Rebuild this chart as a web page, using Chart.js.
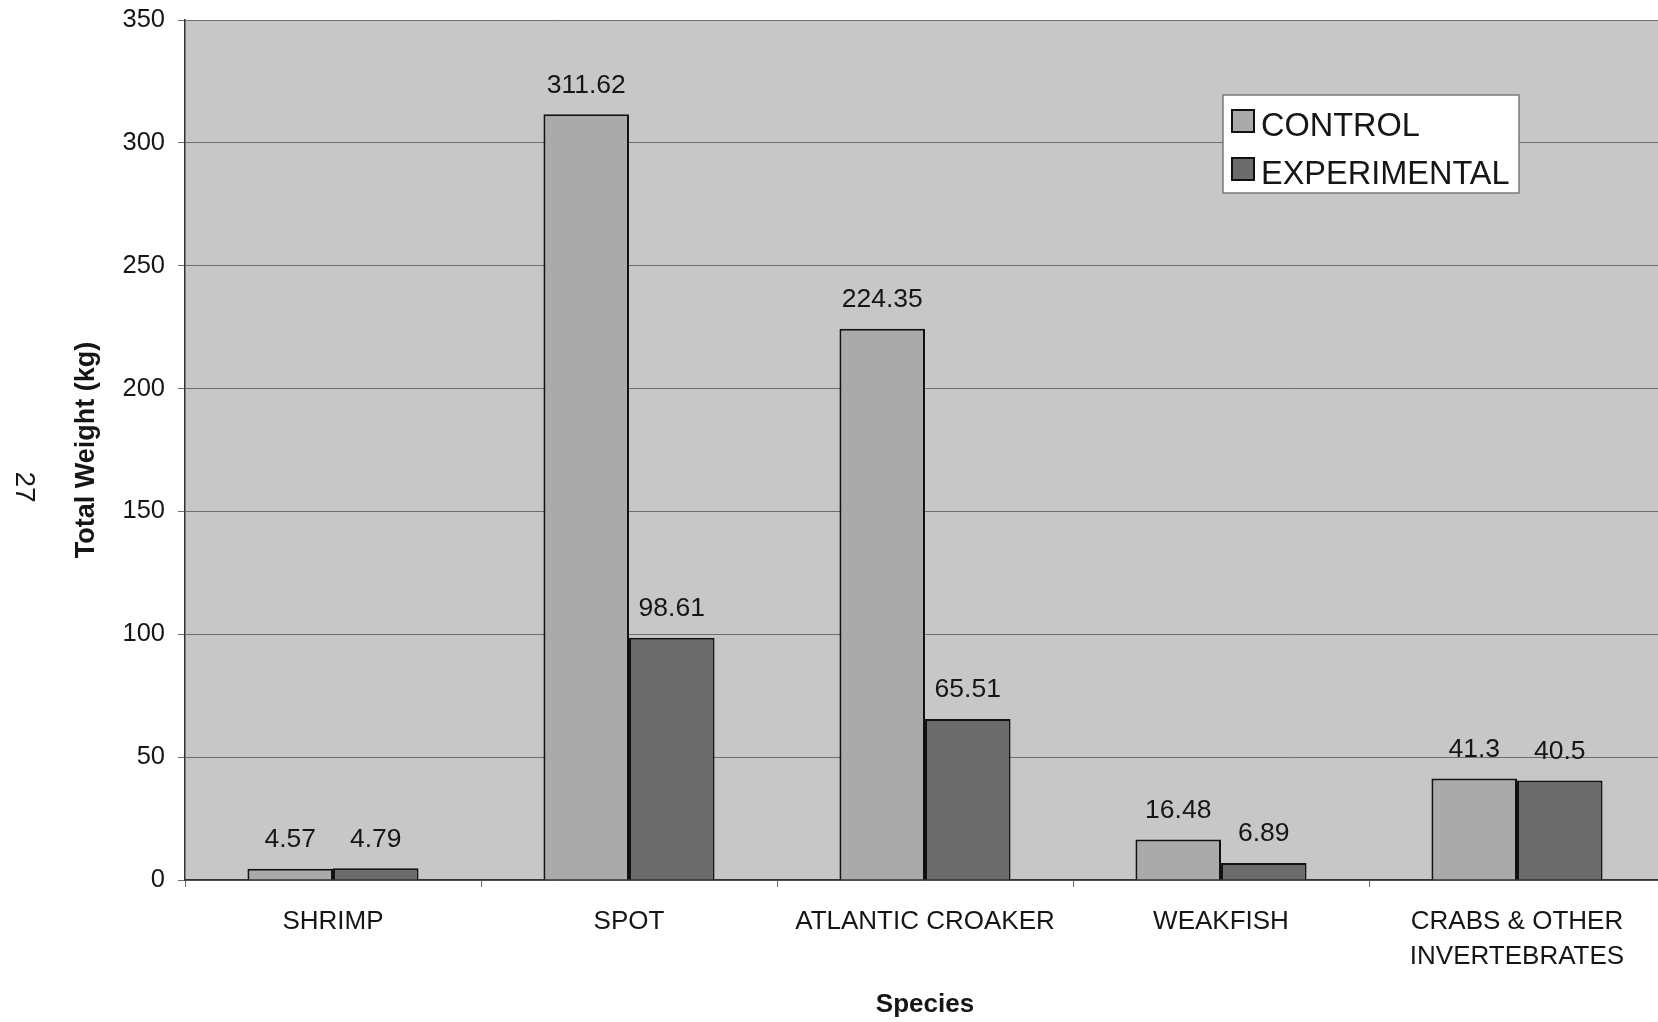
<!DOCTYPE html>
<html>
<head>
<meta charset="utf-8">
<script src="https://cdn.jsdelivr.net/npm/chart.js@4/dist/chart.umd.min.js"></script>
<style>
  html, body { margin: 0; padding: 0; background: #ffffff; overflow: hidden; }
  #wrap { width: 1665px; height: 1022px; }
  canvas { display: block; }
</style>
</head>
<body>
<div id="wrap"><canvas id="chart" width="1665" height="1022"></canvas></div>
<script>
// Total catch weight by species, control vs experimental trawl
const species = ['SHRIMP', 'SPOT', 'ATLANTIC CROAKER', 'WEAKFISH', ['CRABS & OTHER', 'INVERTEBRATES']];
const controlKg = [4.57, 311.62, 224.35, 16.48, 41.3];
const experimentalKg = [4.79, 98.61, 65.51, 6.89, 40.5];
const seriesNames = ['CONTROL', 'EXPERIMENTAL'];
const yTicks = [0, 50, 100, 150, 200, 250, 300, 350];
const pageNumber = '27';

const FONT = '"Liberation Sans", Arial, Helvetica, sans-serif';
const INK = '#161616';

// Grey plot background
const plotBackground = {
  id: 'plotBackground',
  beforeDraw(chart) {
    const { ctx, chartArea: a } = chart;
    ctx.save();
    ctx.fillStyle = '#c7c7c7';
    ctx.fillRect(a.left, a.top, a.right - a.left, a.bottom - a.top);
    ctx.restore();
  }
};

// Value printed above each bar
const valueLabels = {
  id: 'valueLabels',
  afterDatasetsDraw(chart) {
    const { ctx } = chart;
    ctx.save();
    ctx.font = '26.5px ' + FONT;
    ctx.fillStyle = INK;
    ctx.textAlign = 'center';
    ctx.textBaseline = 'middle';
    chart.data.datasets.forEach((ds, i) => {
      chart.getDatasetMeta(i).data.forEach((bar, j) => {
        ctx.fillText(String(ds.data[j]), bar.x, bar.y - 29);
      });
    });
    ctx.restore();
  }
};

// Boxed legend inside the plot, plus the page number in the margin
const boxLegend = {
  id: 'boxLegend',
  afterDraw(chart) {
    const { ctx } = chart;
    ctx.save();
    const x = 1223, y = 95, w = 296, h = 98;
    ctx.fillStyle = '#ffffff';
    ctx.fillRect(x, y, w, h);
    ctx.strokeStyle = '#7a7a7a';
    ctx.lineWidth = 1.5;
    ctx.strokeRect(x, y, w, h);
    ctx.font = '32.5px ' + FONT;
    ctx.textBaseline = 'alphabetic';
    ctx.textAlign = 'left';
    chart.data.datasets.forEach((ds, i) => {
      const my = 110 + i * 48;
      ctx.fillStyle = ds.backgroundColor;
      ctx.fillRect(1232, my, 22, 22);
      ctx.strokeStyle = '#111111';
      ctx.lineWidth = 2;
      ctx.strokeRect(1232, my, 22, 22);
      ctx.fillStyle = INK;
      ctx.fillText(ds.label, 1261, 136 + i * 48);
    });

    ctx.translate(24, 487);
    ctx.rotate(Math.PI / 2);
    ctx.font = '28px ' + FONT;
    ctx.textAlign = 'center';
    ctx.textBaseline = 'middle';
    ctx.fillStyle = INK;
    ctx.fillText(pageNumber, 0, 0);
    ctx.restore();
  }
};

new Chart(document.getElementById('chart'), {
  type: 'bar',
  data: {
    labels: species,
    datasets: [
      { label: seriesNames[0], data: controlKg, backgroundColor: '#aaaaaa', borderColor: '#111111', borderWidth: 2 },
      { label: seriesNames[1], data: experimentalKg, backgroundColor: '#6c6c6c', borderColor: '#111111', borderWidth: 2 }
    ]
  },
  options: {
    responsive: false,
    animation: false,
    events: [],
    layout: { padding: { top: 20, left: 0, right: 0, bottom: 0 } },
    datasets: { bar: { categoryPercentage: 0.578, barPercentage: 1.0 } },
    plugins: { legend: { display: false }, tooltip: { enabled: false } },
    scales: {
      x: {
        afterFit(scale) {
          scale.height = 142;
          scale.paddingLeft = 0;
          scale.paddingRight = 0;
        },
        grid: {
          offset: true,
          drawOnChartArea: false,
          drawTicks: true,
          tickLength: 7,
          color: '#6a6a6a',
          lineWidth: 1
        },
        border: { display: true, color: '#333333', width: 1.5 },
        ticks: {
          color: INK,
          padding: 18,
          maxRotation: 0,
          autoSkip: false,
          font: { family: FONT, size: 26, lineHeight: 1.33 }
        },
        title: {
          display: true,
          text: 'Species',
          color: INK,
          padding: { top: 0, bottom: 2 },
          font: { family: FONT, size: 26, weight: 'bold', lineHeight: 1.2 }
        }
      },
      y: {
        min: 0,
        max: 350,
        afterFit(scale) {
          scale.width = 185;
          scale.paddingTop = 0;
          scale.paddingBottom = 0;
        },
        afterBuildTicks(scale) { scale.ticks = yTicks.map(v => ({ value: v })); },
        grid: {
          color: '#6e6e6e',
          lineWidth: 1,
          tickLength: 7
        },
        border: { display: true, color: '#333333', width: 1.5 },
        ticks: {
          color: INK,
          padding: 13,
          font: { family: FONT, size: 25.5 }
        },
        title: {
          display: true,
          text: 'Total Weight (kg)',
          color: INK,
          padding: { top: 70, bottom: 0 },
          font: { family: FONT, size: 27, weight: 'bold', lineHeight: 1.2 }
        }
      }
    }
  },
  plugins: [plotBackground, valueLabels, boxLegend]
});
</script>
</body>
</html>
